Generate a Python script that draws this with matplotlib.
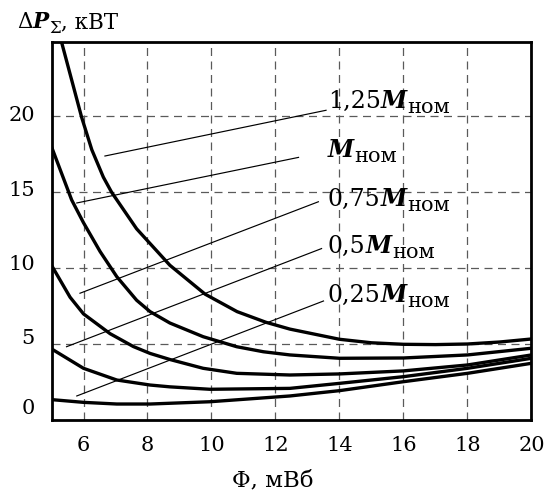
import matplotlib
matplotlib.use('Agg')
import matplotlib.pyplot as plt

# ---------------- data ----------------
phi_125 = [5.3, 5.94, 6.26, 6.62, 6.88, 7.66, 8.7, 9.8, 10.8, 11.7, 12.45, 14.0, 15.0, 16.0, 17.0, 18.0, 19.0, 20.0]
dp_125 = [25.0, 19.95, 17.8, 16.0, 15.0, 12.6, 10.2, 8.3, 7.15, 6.45, 6.0, 5.33, 5.1, 5.0, 4.98, 5.02, 5.15, 5.35]

phi_100 = [5.0, 5.63, 6.0, 6.52, 7.04, 7.66, 8.08, 8.7, 9.74, 10.79, 11.62, 12.45, 14.0, 16.0, 18.0, 20.0]
dp_100 = [18.0, 14.5, 13.0, 11.1, 9.45, 7.9, 7.15, 6.4, 5.5, 4.84, 4.51, 4.3, 4.08, 4.1, 4.3, 4.74]

phi_075 = [5.0, 5.58, 6.0, 6.83, 7.56, 8.08, 8.7, 9.74, 10.79, 12.45, 14.0, 16.0, 18.0, 20.0]
dp_075 = [10.2, 8.1, 7.0, 5.7, 4.85, 4.4, 4.0, 3.42, 3.09, 2.98, 3.05, 3.25, 3.64, 4.3]

phi_050 = [5.0, 6.0, 7.04, 8.08, 8.7, 9.95, 12.45, 14.0, 16.0, 18.0, 20.0]
dp_050 = [4.7, 3.42, 2.65, 2.32, 2.2, 2.04, 2.1, 2.43, 2.87, 3.42, 4.08]

phi_025 = [5.0, 6.0, 7.04, 8.08, 8.7, 9.95, 12.45, 14.0, 16.0, 18.0, 20.0]
dp_025 = [1.36, 1.18, 1.07, 1.07, 1.12, 1.22, 1.6, 1.95, 2.54, 3.09, 3.75]

label_coef = ['1,25', '', '0,75', '0,5', '0,25']
lead_x0 = [6.67, 5.79, 5.89, 5.47, 5.79]
lead_y0 = [17.39, 14.3, 8.36, 4.84, 1.6]
lead_x1 = [13.58, 12.72, 13.34, 13.44, 13.5]
lead_y1 = [20.4, 17.3, 14.38, 11.3, 7.85]

xticks = [6, 8, 10, 12, 14, 16, 18, 20]
yticks = [0, 5, 10, 15, 20]

# ---------------- style ----------------
FAM = 'DejaVu Serif'
plt.rcParams['font.family'] = FAM

fig = plt.figure(figsize=(5.45, 4.93), dpi=100)
ax = fig.add_axes([0.0945, 0.1475, 0.8807, 0.7663])
ax.set_xlim(5, 20)
ax.set_ylim(0, 24.86)

for s in ax.spines.values():
    s.set_linewidth(2.0)
    s.set_zorder(5)

ax.set_xticks(xticks)
ax.set_xticklabels([str(v) for v in xticks], fontsize=15)
ax.set_yticks(yticks)
ax.set_yticklabels([])
ax.tick_params(axis='both', length=0)
ax.tick_params(axis='x', pad=11.5)
ax.grid(True, linestyle=(0, (6.4, 4.4)), color='#5a5a5a', linewidth=0.9)
ax.set_axisbelow(True)

ytick_dy = [8.6, 4.3, 3.0, 1.5, 0.5]
for v, dy in zip(yticks, ytick_dy):
    ax.annotate(str(v), xy=(0, v), xycoords=ax.get_yaxis_transform(),
                xytext=(-12.0, dy), textcoords='offset points',
                ha='right', va='center', fontsize=15, annotation_clip=False)

curves = [(phi_125, dp_125), (phi_100, dp_100), (phi_075, dp_075),
          (phi_050, dp_050), (phi_025, dp_025)]
for xs, ys in curves:
    ax.plot(xs, ys, color='black', linewidth=2.4, solid_capstyle='butt',
            solid_joinstyle='round', zorder=3)

for x0, y0, x1, y1 in zip(lead_x0, lead_y0, lead_x1, lead_y1):
    ax.plot([x0, x1], [y0, y1], color='black', linewidth=0.85, zorder=3)


def chain(x, y, parts, transform, base_size):
    s0, kw0 = parts[0][0], dict(parts[0][1])
    first = ax.text(x, y, s0, transform=transform, va='baseline', ha='left',
                    fontsize=base_size, **kw0)
    prev = first
    for s, kw, kind in parts[1:]:
        kw = dict(kw)
        size = kw.pop('fontsize', base_size)
        if kind == 'sub':
            prev = ax.annotate(s, xy=(1, 0), xycoords=(prev, first),
                               xytext=(0.3, 0), textcoords='offset points',
                               va='baseline', ha='left', fontsize=size,
                               annotation_clip=False, **kw)
        else:
            prev = ax.annotate(s, xy=(1, 0), xycoords=(prev, first),
                               va='bottom', ha='left', fontsize=size,
                               annotation_clip=False, **kw)
    return first


BI = {'fontweight': 'bold', 'fontstyle': 'italic'}
label_x = 13.64
label_y = [20.53, 17.34, 14.1, 11.0, 7.8]
for coef, ly in zip(label_coef, label_y):
    parts = []
    if coef:
        parts.append((coef, {}))
        parts.append(('M', BI, 'main'))
    else:
        parts.append(('M', BI))
    parts.append(('ном', {'fontsize': 15}, 'sub'))
    chain(label_x, ly, parts, ax.transData, 17)

# y-axis title
chain(0.032, 0.9426,
      [('Δ', {}),
       ('P', BI, 'main'),
       ('Σ', {'fontsize': 12}, 'sub'),
       (', кВТ', {}, 'main')],
      fig.transFigure, 15.5)

# x-axis title
fig.text(0.5, 0.004, 'Φ, мВб', ha='center', va='bottom', fontsize=16.5)

fig.savefig('out.png', dpi=100)
